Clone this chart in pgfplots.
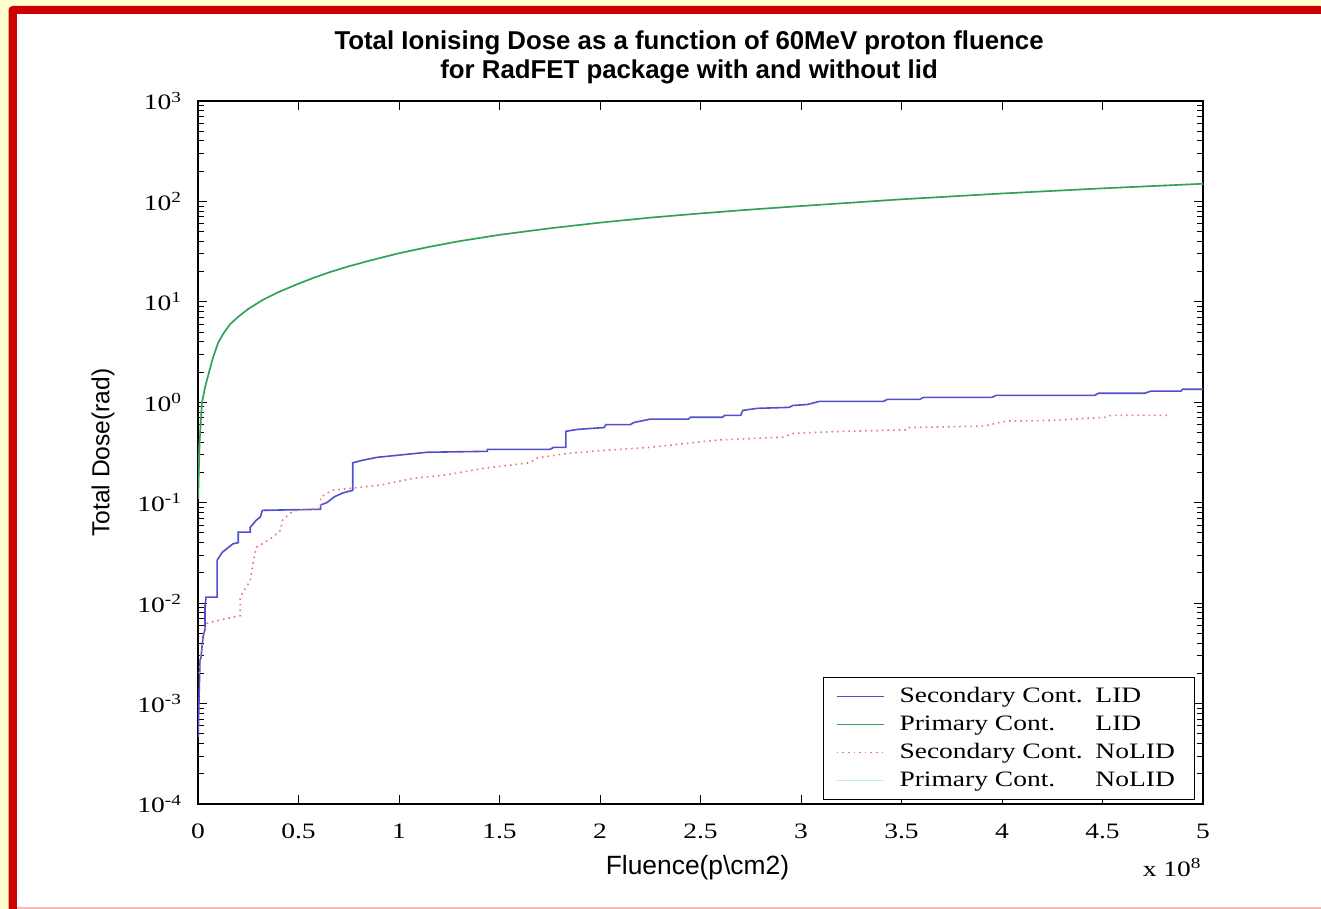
\documentclass[border=0pt]{standalone}
\usepackage{fontspec}
\setmainfont{Liberation Sans}
\newfontfamily\mlfont[FakeStretch=1.25]{Liberation Serif}
\usepackage{pgfplots}
\pgfplotsset{compat=1.18}
\definecolor{bgyellow}{RGB}{255,255,208}
\definecolor{framered}{RGB}{204,0,0}
\definecolor{pinkline}{RGB}{250,185,185}
\definecolor{seclid}{RGB}{80,80,205}
\definecolor{primlid}{RGB}{50,160,85}
\definecolor{secnolid}{RGB}{235,120,120}
\definecolor{primnolid}{RGB}{195,235,235}
\newcommand\tickfont{\mlfont\fontsize{11}{13}\selectfont}
\newcommand\lgd[2]{\makebox[98pt][l]{#1}\makebox[42pt][l]{#2}}

\begin{document}
\begin{tikzpicture}
% frame (1px = 0.5pt, y downwards)
\fill[bgyellow] (0,0) rectangle (660.5pt,-454.5pt);
\fill[framered, rounded corners=2pt] (4.25pt,-3pt) rectangle (662pt,-456pt);
\fill[white] (8.25pt,-7pt) rectangle (660.5pt,-453.5pt);
\fill[pinkline] (8.25pt,-453.5pt) rectangle (660.5pt,-454.5pt);

\begin{axis}[
    at={(99pt,-402pt)}, anchor=south west,
    scale only axis, width=502.5pt, height=351.5pt,
    ymode=log,
    xmin=0, xmax=5, ymin=1e-4, ymax=1e3,
    clip mode=individual,
    xtick={0,0.5,1,1.5,2,2.5,3,3.5,4,4.5,5},
    xticklabels={0,0.5,1,1.5,2,2.5,3,3.5,4,4.5,5},
    ytick={1e-4,1e-3,1e-2,1e-1,1,1e1,1e2,1e3},
    yticklabels={10\textsuperscript{-4},10\textsuperscript{-3},10\textsuperscript{-2},10\textsuperscript{-1},
                 10\textsuperscript{0},10\textsuperscript{1},10\textsuperscript{2},10\textsuperscript{3}},
    yminorticks=true,
    minor ytick={2e-4,3e-4,4e-4,5e-4,6e-4,7e-4,8e-4,9e-4,
                 2e-3,3e-3,4e-3,5e-3,6e-3,7e-3,8e-3,9e-3,
                 2e-2,3e-2,4e-2,5e-2,6e-2,7e-2,8e-2,9e-2,
                 0.2,0.3,0.4,0.5,0.6,0.7,0.8,0.9,
                 2,3,4,5,6,7,8,9,
                 20,30,40,50,60,70,80,90,
                 200,300,400,500,600,700,800,900},
    tick label style={font=\tickfont},
    xticklabel style={yshift=-6.5pt},
    yticklabel style={xshift=-4.5pt},
    tick align=inside,
    major tick length=4.5pt, minor tick length=2.8pt,
    major tick style={black, line width=0.5pt},
    minor tick style={black, line width=0.5pt},
    axis line style={black, line width=0.6pt},
    title={Total Ionising Dose as a function of 60MeV proton fluence\\for RadFET package with and without lid},
    every axis title/.style={at={(axis description cs:0.4886,1)}, anchor=south, inner sep=0pt,
        yshift=8.5pt, align=center, font=\bfseries\fontsize{12.9}{14.5}\selectfont},
    xlabel={Fluence(p\textbackslash cm2)},
    ylabel={Total Dose(rad)},
    every axis x label/.style={at={(axis description cs:0.497,-0.091)}, anchor=center,
        font=\fontsize{13.2}{15}\selectfont},
    every axis y label/.style={at={(axis description cs:-0.0945,0.5)}, rotate=90, anchor=center,
        font=\fontsize{12.3}{14}\selectfont},
    legend cell align=left,
    legend style={at={(1,0)}, anchor=south east, xshift=-4pt, yshift=2pt,
        draw=black, line width=0.5pt, fill=white, inner xsep=6pt, inner ysep=2.5pt,
        font=\tickfont,
        nodes={inner sep=1.5pt, text height=8.3pt, text depth=2.7pt},
        /tikz/every odd column/.append style={column sep=6pt}},
    legend image code/.code={\draw[#1, line width=0.8pt] (0pt,0pt) -- (23.5pt,0pt);},
]
% Primary contribution, no lid (lies under the LID curve)
\addplot[primnolid, line width=0.8pt, forget plot] coordinates {
 (0.001,0.11) (0.004,0.2) (0.008,0.4) (0.013,0.6) (0.02,1.0) (0.035,1.41) (0.055,2.0) (0.075,2.8)
 (0.1,3.9) (0.125,4.8) (0.16,6.0) (0.2,7.1) (0.25,8.5) (0.32,10.4) (0.4,12.5) (0.49,14.9)
 (0.58,17.5) (0.66,19.9) (0.75,22.6) (0.84,25.3) (0.92,27.8) (1.0,30.5) (1.15,35.3) (1.3,40.2)
 (1.5,46.5) (1.75,54) (2,61.5) (2.25,69) (2.5,76) (2.75,83) (3,90) (3.5,105) (4,120) (4.5,135) (5,150)
};
% Secondary contribution, with lid
\addplot[seclid, line width=0.8pt] coordinates {
 (0.001,4.6e-4) (0.005,1.1e-3) (0.01,2.7e-3) (0.015,2.9e-3) (0.025,4.6e-3) (0.035,5.5e-3)
 (0.035,9.5e-3) (0.04,0.0115) (0.095,0.0115) (0.095,0.0267) (0.12,0.032) (0.174,0.039)
 (0.2,0.04) (0.2,0.051) (0.26,0.051) (0.26,0.057) (0.29,0.067) (0.31,0.072) (0.32,0.084)
 (0.61,0.086) (0.61,0.095) (0.64,0.10) (0.68,0.115) (0.72,0.125) (0.77,0.133) (0.77,0.25)
 (0.82,0.265) (0.89,0.283) (1.14,0.318) (1.44,0.325) (1.44,0.34) (1.75,0.34) (1.77,0.356)
 (1.83,0.356) (1.83,0.514) (1.89,0.538) (2.02,0.56) (2.03,0.60) (2.15,0.60) (2.17,0.63)
 (2.25,0.68) (2.44,0.68) (2.45,0.71) (2.61,0.71) (2.62,0.74) (2.70,0.74) (2.71,0.83)
 (2.78,0.87) (2.94,0.89) (2.96,0.93) (3.03,0.95) (3.09,1.02) (3.41,1.02) (3.43,1.07)
 (3.59,1.07) (3.61,1.12) (3.95,1.12) (3.97,1.17) (4.46,1.17) (4.48,1.23) (4.71,1.23)
 (4.74,1.29) (4.89,1.29) (4.90,1.35) (5.0,1.35)
};
\addlegendentry{\lgd{Secondary Cont.}{LID}}
% Primary contribution, with lid
\addplot[primlid, line width=0.8pt] coordinates {
 (0.001,0.11) (0.004,0.2) (0.008,0.4) (0.013,0.6) (0.02,1.0) (0.035,1.41) (0.055,2.0) (0.075,2.8)
 (0.1,3.9) (0.125,4.8) (0.16,6.0) (0.2,7.1) (0.25,8.5) (0.32,10.4) (0.4,12.5) (0.49,14.9)
 (0.58,17.5) (0.66,19.9) (0.75,22.6) (0.84,25.3) (0.92,27.8) (1.0,30.5) (1.15,35.3) (1.3,40.2)
 (1.5,46.5) (1.75,54) (2,61.5) (2.25,69) (2.5,76) (2.75,83) (3,90) (3.5,105) (4,120) (4.5,135) (5,150)
};
\addlegendentry{\lgd{Primary Cont.}{LID}}
% Secondary contribution, no lid
\addplot[secnolid, line width=0.8pt, dotted] coordinates {
 (0.005,0.002) (0.01,0.0027) (0.035,0.0057) (0.045,0.0063) (0.11,0.0068) (0.21,0.0075)
 (0.21,0.0115) (0.26,0.0168) (0.27,0.023) (0.29,0.036) (0.32,0.039) (0.37,0.045)
 (0.41,0.053) (0.42,0.067) (0.46,0.079) (0.49,0.084) (0.61,0.088) (0.61,0.113) (0.64,0.124)
 (0.67,0.133) (0.77,0.14) (0.91,0.15) (1.07,0.175) (1.24,0.19) (1.42,0.22) (1.65,0.25)
 (1.69,0.28) (1.84,0.31) (2.0,0.33) (2.25,0.356) (2.38,0.38) (2.58,0.42) (2.91,0.45)
 (2.96,0.49) (3.16,0.51) (3.49,0.53) (3.53,0.53) (3.54,0.56) (3.91,0.58) (4.02,0.65)
 (4.24,0.66) (4.52,0.71) (4.54,0.74) (4.83,0.74)
};
\addlegendentry{\lgd{Secondary Cont.}{NoLID}}
\addlegendimage{primnolid}
\addlegendentry{\lgd{Primary Cont.}{NoLID}}
\node[anchor=base east, font=\tickfont, inner sep=0pt] at (axis description cs:1,0)
    [xshift=-0.5pt, yshift=-36pt] {x 10\textsuperscript{8}};
\end{axis}
\pgfresetboundingbox
\path (0,0) rectangle (660.5pt,-454.5pt);
\end{tikzpicture}
\end{document}
